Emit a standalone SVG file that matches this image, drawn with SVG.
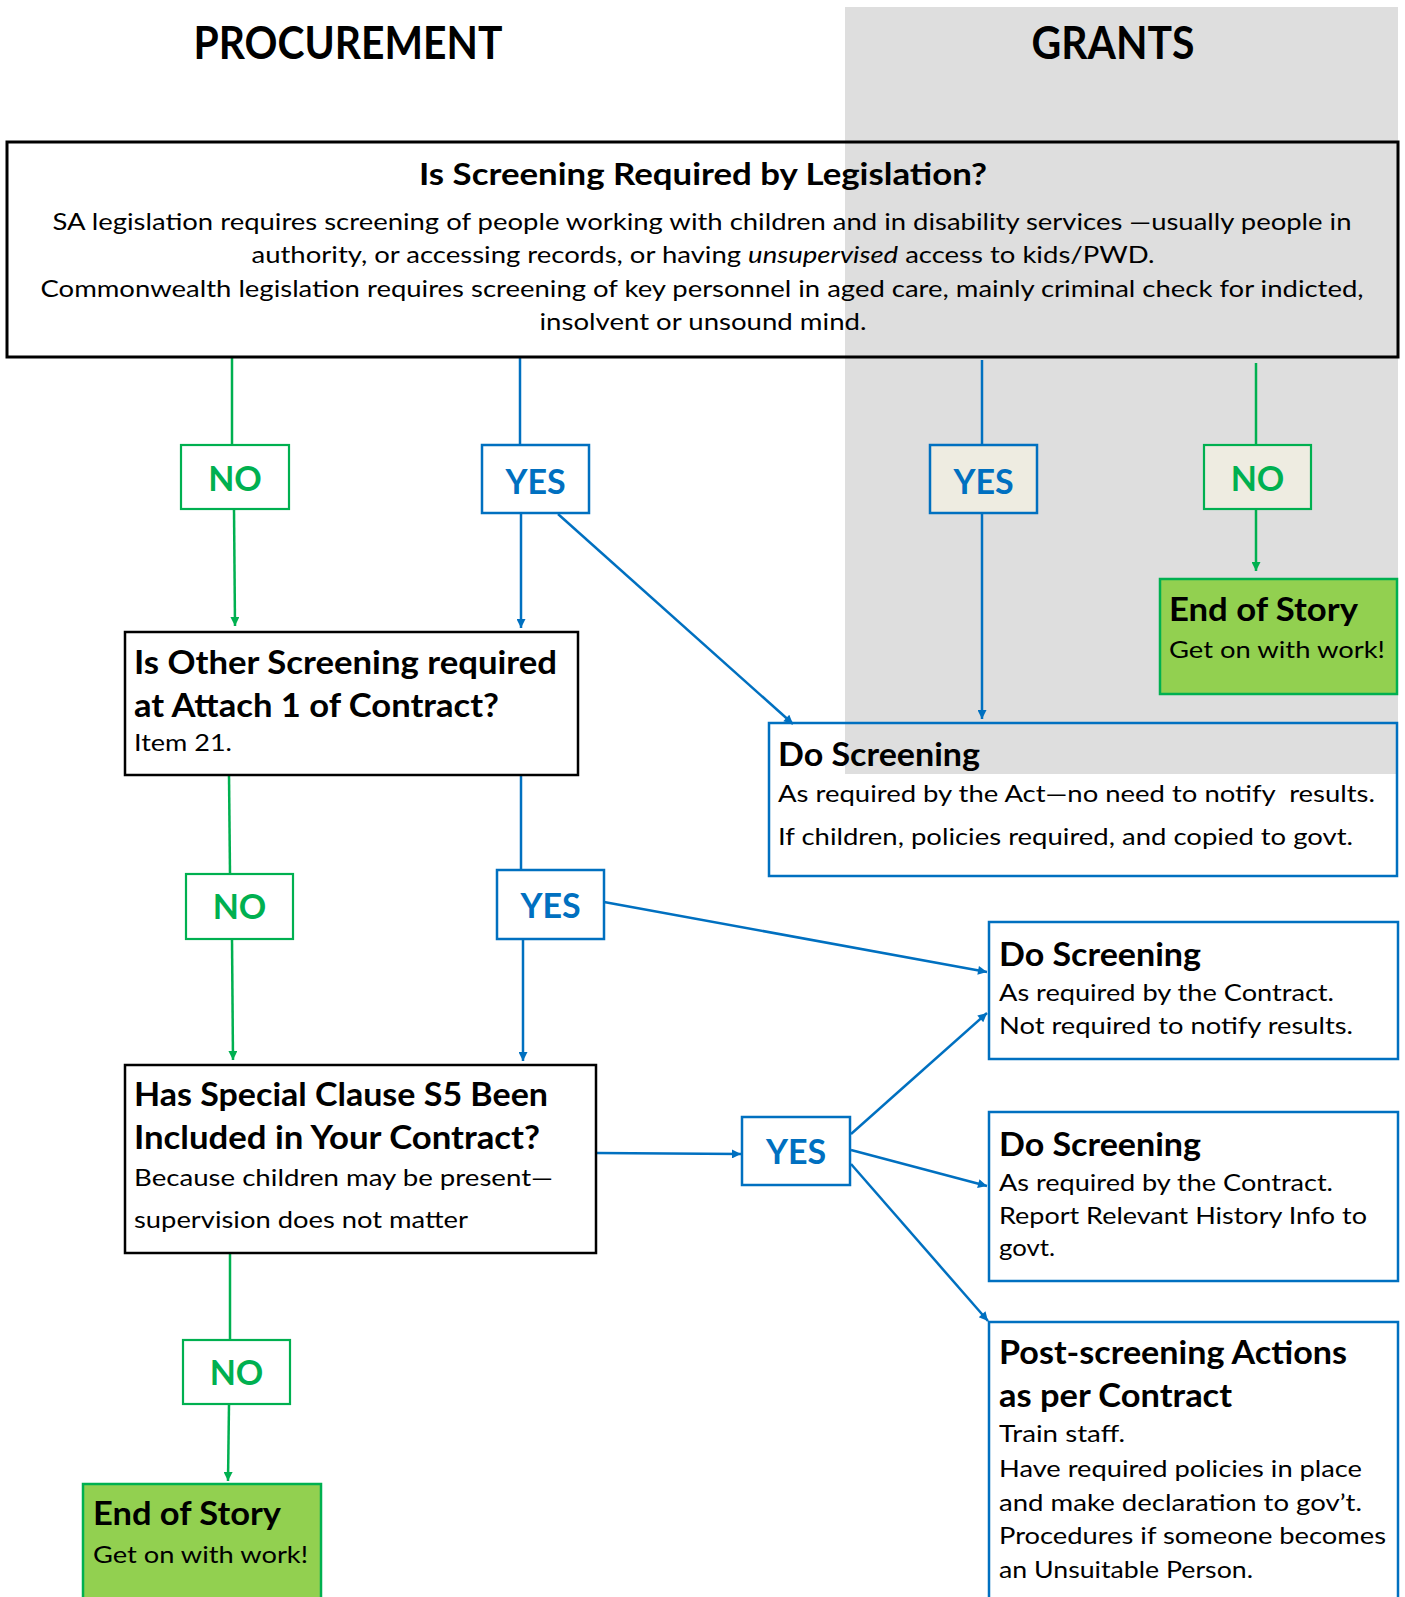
<svg xmlns="http://www.w3.org/2000/svg" width="1405" height="1597" viewBox="0 0 1405 1597">
<style>
text{font-family:Lato,"Open Sans","Liberation Sans",sans-serif;fill:#000}
.hd{font-size:46px;font-weight:bold}
.tt{font-size:30px;font-weight:bold}
.bd{font-size:22.5px}
.h{font-size:33px;font-weight:bold}
.t{font-size:24px}
.yes{font-size:34px;font-weight:bold;fill:#0070c0;text-anchor:middle}
.no{font-size:34px;font-weight:bold;fill:#00b050;text-anchor:middle}
.kb{fill:none;stroke:#000;stroke-width:2.5}
.bb{fill:none;stroke:#0070c0;stroke-width:2.5}
.gb{fill:#fff;stroke:#00b050;stroke-width:2.2}
.yb{fill:#fff;stroke:#0070c0;stroke-width:2.5}
.end{fill:#92d050;stroke:#00b050;stroke-width:2.5}
.bl{stroke:#0070c0;stroke-width:2.5;fill:none}
.gl{stroke:#00b050;stroke-width:2.5;fill:none}
.ba{marker-end:url(#ab)}
.ga{marker-end:url(#ag)}
</style>
<defs>
<marker id="ab" viewBox="0 0 10 10" refX="10" refY="5" markerWidth="11" markerHeight="9" markerUnits="userSpaceOnUse" orient="auto"><path d="M0,0 L10,5 L0,10 z" fill="#0070c0"/></marker>
<marker id="ag" viewBox="0 0 10 10" refX="10" refY="5" markerWidth="11" markerHeight="9" markerUnits="userSpaceOnUse" orient="auto"><path d="M0,0 L10,5 L0,10 z" fill="#00b050"/></marker>
</defs>
<rect x="0" y="0" width="1405" height="1597" fill="#fff"/>
<rect x="845" y="7" width="553" height="767" fill="#dedede"/>
<text class="hd" x="348" y="59" text-anchor="middle" textLength="309" lengthAdjust="spacingAndGlyphs">PROCUREMENT</text>
<text class="hd" x="1113" y="59" text-anchor="middle" textLength="163" lengthAdjust="spacingAndGlyphs">GRANTS</text>

<g id="connectors">
<line class="gl" x1="232" y1="357" x2="232" y2="445"/>
<line class="gl ga" x1="234" y1="509" x2="235" y2="626"/>
<line class="gl" x1="1256" y1="363" x2="1256" y2="445"/>
<line class="gl ga" x1="1256" y1="509" x2="1256" y2="571"/>
<line class="gl" x1="229" y1="775" x2="230" y2="874"/>
<line class="gl ga" x1="232" y1="939" x2="233" y2="1060"/>
<line class="gl" x1="230" y1="1253" x2="230" y2="1340"/>
<line class="gl ga" x1="229" y1="1404" x2="228" y2="1481"/>
<line class="bl" x1="520" y1="357" x2="520" y2="445"/>
<line class="bl ba" x1="521" y1="513" x2="521" y2="628"/>
<line class="bl ba" x1="558" y1="514" x2="793" y2="724"/>
<line class="bl" x1="982" y1="360" x2="982" y2="445"/>
<line class="bl ba" x1="982" y1="513" x2="982" y2="719"/>
<line class="bl" x1="521" y1="775" x2="521" y2="870"/>
<line class="bl ba" x1="523" y1="939" x2="523" y2="1061"/>
<line class="bl ba" x1="604" y1="902" x2="987" y2="972"/>
<line class="bl ba" x1="596" y1="1153" x2="741" y2="1154"/>
<line class="bl ba" x1="851" y1="1134" x2="987" y2="1013"/>
<line class="bl ba" x1="851" y1="1150" x2="987" y2="1186"/>
<line class="bl ba" x1="851" y1="1164" x2="988" y2="1321"/>
</g>

<g id="legislation">
<rect x="7" y="142" width="1391" height="215" fill="none" stroke="#000" stroke-width="3"/>
<text class="tt" x="703" y="185" text-anchor="middle" textLength="568" lengthAdjust="spacingAndGlyphs">Is Screening Required by Legislation?</text>
<text class="bd" x="702" y="230" text-anchor="middle" textLength="1299" lengthAdjust="spacingAndGlyphs">SA legislation requires screening of people working with children and in disability services —usually people in</text>
<text class="bd" x="703" y="263" text-anchor="middle" textLength="903" lengthAdjust="spacingAndGlyphs">authority, or accessing records, or having <tspan font-style="italic">unsupervised</tspan> access to kids/PWD.</text>
<text class="bd" x="702" y="297" text-anchor="middle" textLength="1323" lengthAdjust="spacingAndGlyphs">Commonwealth legislation requires screening of key personnel in aged care, mainly criminal check for indicted,</text>
<text class="bd" x="703" y="330" text-anchor="middle" textLength="327" lengthAdjust="spacingAndGlyphs">insolvent or unsound mind.</text>
</g>

<g id="no1"><rect class="gb" x="181" y="445" width="108" height="64"/><text class="no" x="235" y="491">NO</text></g>
<g id="yes1"><rect class="yb" x="482" y="445" width="107" height="68"/><text class="yes" x="535.5" y="494">YES</text></g>
<g id="yes-grants"><rect class="yb" x="930" y="445" width="107" height="68" style="fill:#eeece1"/><text class="yes" x="983.5" y="494">YES</text></g>
<g id="no-grants"><rect class="gb" x="1204" y="445" width="107" height="64" style="fill:#eeece1"/><text class="no" x="1257.5" y="491">NO</text></g>

<g id="end-grants">
<rect class="end" x="1160" y="579" width="237" height="115"/>
<text class="h" x="1169" y="621" textLength="189" lengthAdjust="spacingAndGlyphs">End of Story</text>
<text class="t" x="1169" y="658" textLength="216" lengthAdjust="spacingAndGlyphs">Get on with work!</text>
</g>

<g id="other-screening">
<rect class="kb" x="125" y="632" width="453" height="143"/>
<text class="h" x="134" y="674" textLength="423" lengthAdjust="spacingAndGlyphs">Is Other Screening required</text>
<text class="h" x="134" y="717" textLength="365" lengthAdjust="spacingAndGlyphs">at Attach 1 of Contract?</text>
<text class="t" x="134" y="751" textLength="98" lengthAdjust="spacingAndGlyphs">Item 21.</text>
</g>

<g id="do-screening-act">
<rect class="bb" x="769" y="723" width="628" height="153"/>
<text class="h" x="778" y="766" textLength="202" lengthAdjust="spacingAndGlyphs">Do Screening</text>
<text class="t" x="778" y="802" textLength="597" lengthAdjust="spacingAndGlyphs" xml:space="preserve" style="white-space:pre">As required by the Act—no need to notify  results.</text>
<text class="t" x="778" y="845" textLength="575" lengthAdjust="spacingAndGlyphs">If children, policies required, and copied to govt.</text>
</g>

<g id="no2"><rect class="gb" x="186" y="874" width="107" height="65"/><text class="no" x="239.5" y="919">NO</text></g>
<g id="yes2"><rect class="yb" x="497" y="870" width="107" height="69"/><text class="yes" x="550.5" y="918">YES</text></g>

<g id="do-screening-contract">
<rect class="bb" x="989" y="922" width="409" height="137"/>
<text class="h" x="999" y="966" textLength="202" lengthAdjust="spacingAndGlyphs">Do Screening</text>
<text class="t" x="999" y="1001" textLength="335" lengthAdjust="spacingAndGlyphs">As required by the Contract.</text>
<text class="t" x="999" y="1034" textLength="354" lengthAdjust="spacingAndGlyphs">Not required to notify results.</text>
</g>

<g id="special-clause">
<rect class="kb" x="125" y="1065" width="471" height="188"/>
<text class="h" x="134" y="1106" textLength="414" lengthAdjust="spacingAndGlyphs">Has Special Clause S5 Been</text>
<text class="h" x="134" y="1149" textLength="406" lengthAdjust="spacingAndGlyphs">Included in Your Contract?</text>
<text class="t" x="134" y="1186" textLength="419" lengthAdjust="spacingAndGlyphs">Because children may be present—</text>
<text class="t" x="134" y="1228" textLength="334" lengthAdjust="spacingAndGlyphs">supervision does not matter</text>
</g>

<g id="yes4"><rect class="yb" x="742" y="1117" width="108" height="68"/><text class="yes" x="796" y="1164">YES</text></g>

<g id="do-screening-report">
<rect class="bb" x="989" y="1112" width="409" height="169"/>
<text class="h" x="999" y="1156" textLength="202" lengthAdjust="spacingAndGlyphs">Do Screening</text>
<text class="t" x="999" y="1191" textLength="334" lengthAdjust="spacingAndGlyphs">As required by the Contract.</text>
<text class="t" x="999" y="1224" textLength="368" lengthAdjust="spacingAndGlyphs">Report Relevant History Info to</text>
<text class="t" x="999" y="1256" textLength="56" lengthAdjust="spacingAndGlyphs">govt.</text>
</g>

<g id="post-screening">
<rect class="bb" x="989" y="1322" width="409" height="300"/>
<text class="h" x="999" y="1364" textLength="348" lengthAdjust="spacingAndGlyphs">Post-screening Actions</text>
<text class="h" x="999" y="1407" textLength="233" lengthAdjust="spacingAndGlyphs">as per Contract</text>
<text class="t" x="999" y="1442" textLength="126" lengthAdjust="spacingAndGlyphs">Train staff.</text>
<text class="t" x="999" y="1477" textLength="363" lengthAdjust="spacingAndGlyphs">Have required policies in place</text>
<text class="t" x="999" y="1511" textLength="363" lengthAdjust="spacingAndGlyphs">and make declaration to gov’t.</text>
<text class="t" x="999" y="1544" textLength="387" lengthAdjust="spacingAndGlyphs">Procedures if someone becomes</text>
<text class="t" x="999" y="1578" textLength="254" lengthAdjust="spacingAndGlyphs">an Unsuitable Person.</text>
</g>

<g id="no3"><rect class="gb" x="183" y="1340" width="107" height="64"/><text class="no" x="236.5" y="1385">NO</text></g>

<g id="end-procurement">
<rect class="end" x="83" y="1484" width="238" height="140"/>
<text class="h" x="93" y="1525" textLength="188" lengthAdjust="spacingAndGlyphs">End of Story</text>
<text class="t" x="93" y="1563" textLength="215" lengthAdjust="spacingAndGlyphs">Get on with work!</text>
</g>
</svg>
